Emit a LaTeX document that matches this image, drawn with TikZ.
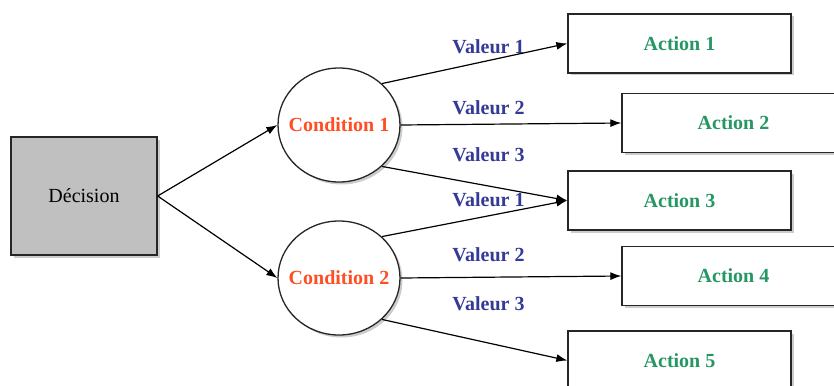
\documentclass[tikz,border=0pt]{standalone}
\usepackage{fontspec}
\setmainfont{Liberation Serif}
\usetikzlibrary{shapes.geometric,shadows,arrows.meta}
\definecolor{decgris}{RGB}{192,192,192}
\definecolor{condrouge}{RGB}{255,78,36}
\definecolor{valbleu}{RGB}{52,58,150}
\definecolor{actvert}{RGB}{38,150,98}
\begin{document}
\begin{tikzpicture}[
    x=1pt, y=-1pt,
    font=\fontsize{20}{24}\selectfont,
    ombre/.style={drop shadow={shadow xshift=2.5pt,shadow yshift=-2.5pt,fill=black!40}},
    decbox/.style={draw=black!85, line width=1.3pt, fill=decgris, minimum width=146pt, minimum height=118pt, ombre},
    condnode/.style={ellipse, draw=black!85, line width=1.3pt, fill=white, minimum width=122pt, minimum height=114pt, text=condrouge, font=\fontsize{20}{24}\selectfont\bfseries, ombre},
    actbox/.style={draw=black!85, line width=1.3pt, fill=white, minimum width=223pt, minimum height=59pt, text=actvert, font=\fontsize{20}{24}\selectfont\bfseries, ombre},
    vlabel/.style={text=valbleu, font=\fontsize{20}{24}\selectfont\bfseries, inner sep=0pt},
    fleche/.style={line width=1.2pt, -{Latex[length=11pt,width=8pt]}}
    ]
	\useasboundingbox (0,0) rectangle (834,385);
	\node [decbox] (dec) at (84,196) {Décision};
	\node [condnode] (c1) at (339,125) {\makebox[0pt]{Condition 1}};
	\node [condnode] (c2) at (339,278) {\makebox[0pt]{Condition 2}};
	\node [actbox] (a1) at (679.5,43.5) {Action 1};
	\node [actbox] (a2) at (733.5,123) {Action 2};
	\node [actbox] (a3) at (679.5,200.5) {Action 3};
	\node [actbox] (a4) at (733.5,276) {Action 4};
	\node [actbox] (a5) at (679.5,360.5) {Action 5};

	\draw [fleche] (dec.east) -- (c1.west);
	\draw [fleche] (dec.east) -- (c2.west);

	\draw [fleche] (c1.44) -- (a1.west);
	\draw [fleche] (c1.east) -- (a2.west);
	\draw [fleche] (c1.-44) -- (a3.west);
	\draw [fleche] (c2.44) -- (a3.west);
	\draw [fleche] (c2.east) -- (a4.west);
	\draw [fleche] (c2.-44) -- (a5.west);

	\node [vlabel] (v11) at (488.5,47) {Valeur 1};
	\node [vlabel] (v12) at (488.5,108) {Valeur 2};
	\node [vlabel] (v13) at (488.5,155) {Valeur 3};
	\node [vlabel] (v21) at (488.5,200) {Valeur 1};
	\node [vlabel] (v22) at (488.5,255) {Valeur 2};
	\node [vlabel] (v23) at (488.5,304) {Valeur 3};
\end{tikzpicture}
\end{document}
